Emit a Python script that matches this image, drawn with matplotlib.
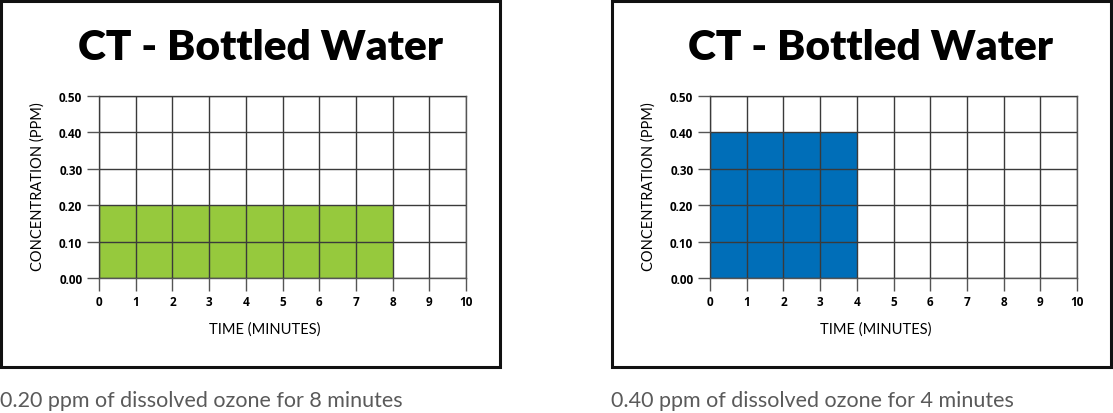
import matplotlib.pyplot as plt
from matplotlib.patches import Rectangle

# =========================
# DATA
# =========================

titles = ['CT - Bottled Water', 'CT - Bottled Water']
concentrations = [0.20, 0.40]
durations = [8, 4]
bar_colors = ['#96c93d', '#006eb8']
captions = [
    '0.20 ppm of dissolved ozone for 8 minutes',
    '0.40 ppm of dissolved ozone for 4 minutes'
]
x_ticks = list(range(0, 11))
y_ticks = [0.0, 0.1, 0.2, 0.3, 0.4, 0.5]

# =========================
# FIGURE
# =========================

W, H = 1113, 414
fig = plt.figure(figsize=(W / 100, H / 100), dpi=100)

# left edge of each framed panel, in pixels
panel_left = [1, 612]
panel_width = 499

for i in range(2):
    px = panel_left[i]

    # frame
    fig.patches.append(
        Rectangle(
            (px / W, (H - 368) / H),
            panel_width / W,
            366 / H,
            transform=fig.transFigure,
            fill=False,
            edgecolor='#111111',
            linewidth=2.2
        )
    )

    # title
    fig.text(
        (px + 259) / W,
        1 - 48 / H,
        titles[i],
        ha='center',
        va='center',
        fontsize=30.5,
        fontweight='heavy',
        family='Lato'
    )

    # axes
    ax_left = px + 98
    ax = fig.add_axes([
        ax_left / W,
        (H - 279) / H,
        367 / W,
        182 / H
    ])

    ax.bar(
        0,
        concentrations[i],
        width=durations[i],
        align='edge',
        color=bar_colors[i],
        zorder=1
    )

    ax.set_xlim(0, 10)
    ax.set_ylim(0, 0.5)
    ax.set_xticks(x_ticks)
    ax.set_yticks(y_ticks)
    ax.set_yticklabels(['%.2f' % v for v in y_ticks])
    ax.grid(True, color='#3a3a3a', linewidth=1.0, zorder=2)
    ax.set_axisbelow(False)

    for s in ax.spines.values():
        s.set_color('#555555')
        s.set_linewidth(1.0)

    ax.tick_params(
        length=9,
        width=1.0,
        color='#555555',
        pad=3,
        labelsize=8.5
    )
    for lab in ax.get_xticklabels() + ax.get_yticklabels():
        lab.set_fontweight('bold')
        lab.set_family('Open Sans')

    # axis titles
    fig.text(
        (px + 37) / W,
        1 - 187 / H,
        'CONCENTRATION (PPM)',
        rotation=90,
        ha='center',
        va='center',
        fontsize=10.5,
        family='Lato'
    )

    fig.text(
        (ax_left + 166) / W,
        1 - 330 / H,
        'TIME (MINUTES)',
        ha='center',
        va='center',
        fontsize=10.5,
        family='Lato'
    )

    # caption below the frame
    fig.text(
        (px - 1) / W,
        1 - 401 / H,
        captions[i],
        ha='left',
        va='center',
        fontsize=15.5,
        color='#5a5a5a',
        family='Lato'
    )

fig.savefig('out.png', dpi=100)
